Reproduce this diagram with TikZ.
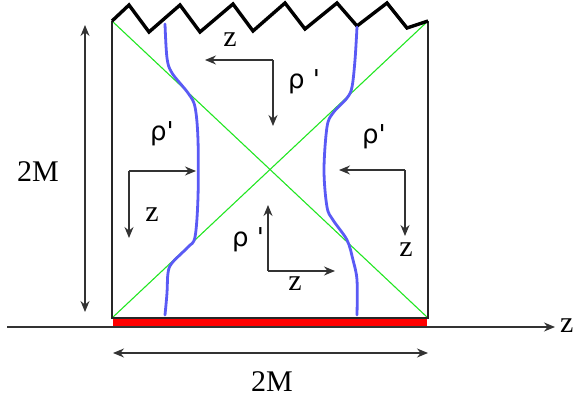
\documentclass[tikz,border=0pt]{standalone}
\usepackage{fontspec}
\setmainfont{Liberation Serif}
\newfontfamily\rhofont{DejaVu Sans}
\usepackage{xcolor}
\definecolor{wlblue}{HTML}{5A5AF5}
\definecolor{lcgreen}{HTML}{22E622}
\definecolor{barred}{HTML}{FF0000}
\usepackage{tikz}
\usetikzlibrary{arrows.meta}

\begin{document}
\begin{tikzpicture}[
  x=1pt, y=-1pt,
  box/.style={line width=1.2pt, color=black!85},
  lc/.style={line width=1.1pt, color=lcgreen},
  wline/.style={line width=2.8pt, color=wlblue, line cap=round},
  jag/.style={line width=3.4pt, line join=miter},
  arr/.style={-{Stealth[length=11pt, width=9pt]}, line width=1.3pt, color=black!80},
  dim/.style={{Stealth[length=11pt, width=9pt]}-{Stealth[length=11pt, width=9pt]},
              line width=1.3pt, color=black!80},
  lab/.style={font=\fontsize{30}{31}\selectfont, inner sep=0pt},
  rho/.style={font=\rhofont\fontsize{26}{27}\selectfont, inner sep=0pt}
]
  \useasboundingbox (0,0) rectangle (576,398);

  % square corners
  \coordinate (tl) at (112,21);
  \coordinate (tr) at (428,21);
  \coordinate (br) at (428,318);
  \coordinate (bl) at (112,318);

  % light cone and box
  \draw[lc] (tl) -- (br);
  \draw[lc] (tr) -- (bl);
  \draw[box] (tl) -- (bl) -- (br) -- (tr);
  \fill[barred] (113,319) rectangle (427,327);

  % singularity
  \draw[jag] (tl) -- (129,5) -- (149,32) -- (180,5) -- (200,32) -- (233,4)
    -- (253,31) -- (285,3) -- (305,29) -- (337,3) -- (357,26) -- (387,3)
    -- (407,28) -- (425,22) -- (tr);

  % walls
  \draw[wline] plot[smooth, tension=0.55] coordinates {(165,24) (167,58) (172,73)
    (188,93) (195,107) (198,140) (198,197) (195,237) (188,247) (172,263)
    (168,273) (167,293) (165,315)};
  \draw[wline] plot[smooth, tension=0.55] coordinates {(357,27) (355,60) (352,87)
    (347,98) (333,113) (327,127) (324,170) (327,207) (333,220) (347,240)
    (353,260) (357,280) (357,315)};

  % axis
  \coordinate (ax0) at (7,327);
  \coordinate (ax1) at (555,327);
  \draw[arr] (ax0) -- (ax1);
  \node[lab, anchor=west] (zax) at (560,326) {z};

  % dimensions
  \coordinate (h0) at (113,353);
  \coordinate (h1) at (428,353);
  \draw[dim] (h0) -- (h1);
  \node[lab] (mh) at (272,382) {2M};
  \coordinate (v0) at (85,25);
  \coordinate (v1) at (85,312);
  \draw[dim] (v0) -- (v1);
  \node[lab] (mv) at (38,172) {2M};

  % top frame
  \coordinate (ctop) at (273,60);
  \coordinate (ztop) at (205,60);
  \coordinate (rtop) at (273,126);
  \draw[arr] (ctop) -- (ztop);
  \draw[arr] (ctop) -- (rtop);
  \node[lab] (zt) at (230,40) {z};
  \node[rho] (rt) at (304,82) {ρ '};

  % left frame
  \coordinate (cleft) at (129,171);
  \coordinate (rleft) at (196,171);
  \coordinate (zleft) at (129,238);
  \draw[arr] (cleft) -- (rleft);
  \draw[arr] (cleft) -- (zleft);
  \node[lab] (zl) at (152,215) {z};
  \node[rho] (rl) at (162,134) {ρ'};

  % right frame
  \coordinate (cright) at (405,170);
  \coordinate (rright) at (339,170);
  \coordinate (zright) at (405,236);
  \draw[arr] (cright) -- (rright);
  \draw[arr] (cright) -- (zright);
  \node[lab] (zr) at (406,250) {z};
  \node[rho] (rr) at (374,137) {ρ'};

  % bottom frame
  \coordinate (cbot) at (268,271);
  \coordinate (rbot) at (268,205);
  \coordinate (zbot) at (335,271);
  \draw[arr] (cbot) -- (rbot);
  \draw[arr] (cbot) -- (zbot);
  \node[lab] (zb) at (295,284) {z};
  \node[rho] (rb) at (248,240) {ρ '};
\end{tikzpicture}
\end{document}
